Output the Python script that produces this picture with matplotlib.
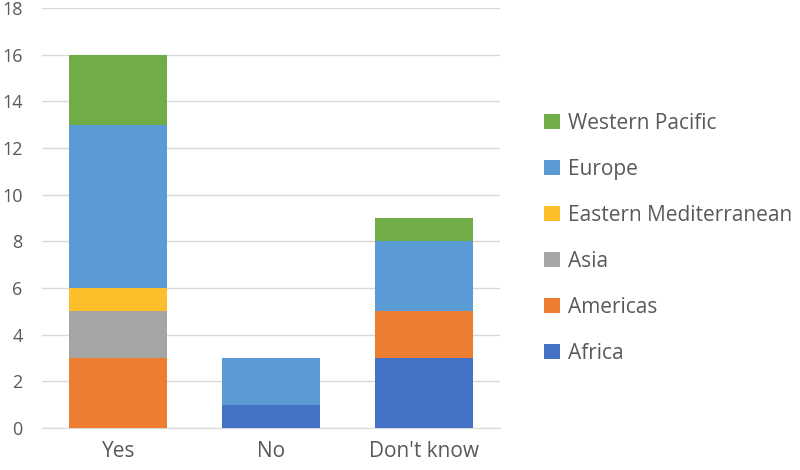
import matplotlib.pyplot as plt
import numpy as np

plt.rcParams['font.family'] = ['Open Sans', 'DejaVu Sans']

categories = ["Yes", "No", "Don't know"]
regions = ["Africa", "Americas", "Asia", "Eastern Mediterranean", "Europe", "Western Pacific"]
africa = [0, 1, 3]
americas = [3, 0, 2]
asia = [2, 0, 0]
eastern_med = [1, 0, 0]
europe = [7, 2, 3]
western_pacific = [3, 0, 1]

series = [africa, americas, asia, eastern_med, europe, western_pacific]
colors = ["#4472C4", "#ED7D31", "#A5A5A5", "#FDBE2C", "#5B9BD5", "#70AD47"]
text_color = "#595959"

fig = plt.figure(figsize=(8, 4.7), dpi=100)
ax = fig.add_axes([0.0525, 0.089, 0.5725, 0.894])

x = np.arange(len(categories))
bottom = np.zeros(len(categories))
handles = []
for name, vals, c in zip(regions, series, colors):
    vals = np.array(vals, dtype=float)
    h = ax.bar(x, vals, 0.64, bottom=bottom, color=c, label=name, zorder=3)
    handles.append(h)
    bottom += vals

ax.set_xlim(-0.5, 2.5)
ax.set_ylim(0, 18)
ax.set_yticks(range(0, 19, 2))
ax.set_xticks(x)
ax.set_xticklabels(categories)
ax.yaxis.grid(True, color="#D9D9D9", linewidth=1, zorder=0)
for s in ["top", "right", "left"]:
    ax.spines[s].set_visible(False)
ax.spines["bottom"].set_color("#D9D9D9")
ax.tick_params(axis="both", length=0, colors=text_color)
ax.tick_params(axis="y", labelsize=13, pad=14)
ax.tick_params(axis="x", labelsize=15, pad=9)

fig.legend(handles[::-1], regions[::-1], loc="upper left", bbox_to_anchor=(0.657, 0.8),
           frameon=False, fontsize=15, labelcolor=text_color, handlelength=0.75,
           handleheight=0.75, handletextpad=0.4, labelspacing=1.2)

fig.savefig("out.png", dpi=100)
